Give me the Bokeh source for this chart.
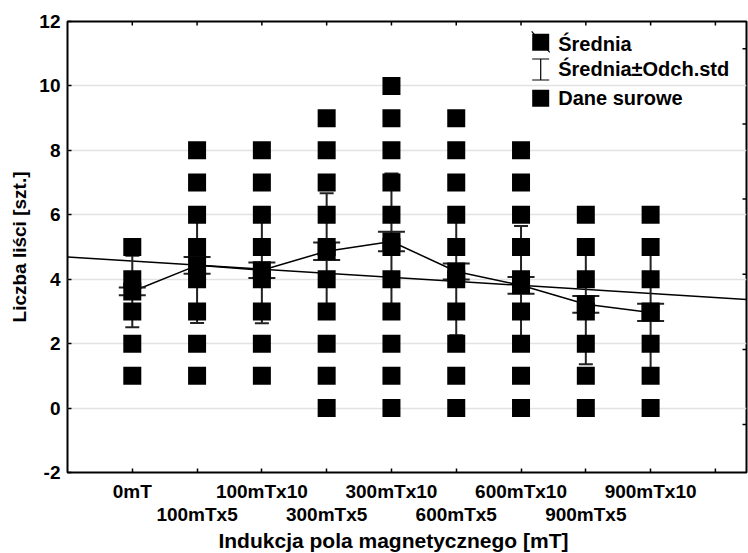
import numpy as np
from bokeh.plotting import figure
from bokeh.models import Range1d, FixedTicker, Title
from bokeh.core.properties import value
from bokeh.embed import file_html
from bokeh.resources import INLINE

# ---------------- data ----------------
categories = ["0mT", "100mTx5", "100mTx10", "300mTx5", "300mTx10",
              "600mTx5", "600mTx10", "900mTx5", "900mTx10"]
raw_values = [
    [1, 2, 3, 4, 5],
    [1, 2, 3, 4, 5, 6, 7, 8],
    [1, 2, 3, 4, 5, 6, 7, 8],
    [0, 1, 2, 3, 4, 5, 6, 7, 8, 9],
    [0, 1, 2, 3, 4, 5, 6, 7, 8, 9, 10],
    [0, 1, 2, 3, 4, 5, 6, 7, 8, 9],
    [0, 1, 2, 3, 4, 5, 6, 7, 8],
    [0, 1, 2, 3, 4, 5, 6],
    [0, 1, 2, 3, 4, 5, 6],
]
means = [3.62, 4.43, 4.28, 4.87, 5.17, 4.24, 3.81, 3.22, 2.97]
std_devs = [1.11, 1.79, 1.65, 1.80, 2.11, 1.98, 1.84, 1.86, 1.80]
std_errs = [0.12, 0.26, 0.24, 0.27, 0.30, 0.25, 0.26, 0.26, 0.27]
reg_intercept = 4.69
reg_slope = -0.126
y_ticks = [-2, 0, 2, 4, 6, 8, 10, 12]
y_tick_labels = ["-2", "0", "2", "4", "6", "8", "10", "12"]
legend_labels = ["Średnia", "Średnia±Odch.std", "Dane surowe"]
x_title = "Indukcja pola magnetycznego [mT]"
y_title = "Liczba liści [szt.]"

FONT = "Liberation Sans"

# ---------------- figure ----------------
FW, FH = 679, 451
p = figure(frame_width=FW, frame_height=FH,
           x_range=Range1d(0, 10.48), y_range=Range1d(-2, 12),
           output_backend="svg", toolbar_location=None,
           min_border_left=67, min_border_top=21, min_border_right=2,
           min_border_bottom=81)
p.extra_x_ranges = {"px": Range1d(0, FW)}
p.extra_y_ranges = {"px": Range1d(FH, 0), "r": Range1d(-0.638, 5.362)}

p.outline_line_color = "black"
p.outline_line_width = 2
p.background_fill_color = "white"
p.border_fill_color = "white"

xpos = list(range(1, len(categories) + 1))
extra_tick = len(categories) + 1

# axes
xa = p.xaxis[0]
xa.ticker = FixedTicker(ticks=xpos)
overrides = {}
for i, c in enumerate(categories):
    overrides[xpos[i]] = c if i % 2 == 0 else "\n" + c
xa.major_label_overrides = overrides

ya = p.yaxis[0]
ya.ticker = FixedTicker(ticks=y_ticks)
ya.major_label_overrides = dict(zip(y_ticks, y_tick_labels))
ya.axis_label = y_title

for ax in (xa, ya):
    ax.axis_line_color = None
    ax.major_tick_in = 4
    ax.major_tick_out = 0
    ax.major_tick_line_width = 1.5
    ax.major_tick_line_color = "black"
    ax.minor_tick_line_color = None
    ax.major_label_text_font = FONT
    ax.major_label_text_font_style = "bold"
    ax.major_label_text_font_size = "19px"
    ax.major_label_text_color = "black"
    ax.axis_label_text_font = FONT
    ax.axis_label_text_font_style = "bold"
    ax.axis_label_text_font_size = "19px"
    ax.axis_label_text_color = "black"
xa.major_label_text_line_height = 1.1
xa.major_label_standoff = 8
ya.major_label_standoff = 7
ya.axis_label_standoff = 6

# x-axis title (placed like the reference, a bit left of the frame centre)
p.add_layout(Title(text=x_title, align="right", offset=178, standoff=2,
                   vertical_align="top",
                   text_font=FONT, text_font_style="bold", text_font_size="21px",
                   text_color="black"), "below")

p.xgrid.grid_line_color = None
p.ygrid.ticker = FixedTicker(ticks=y_ticks)
p.ygrid.grid_line_color = "#e2e2e2"
p.ygrid.grid_line_width = 1.5

# inward ticks on the top / right frame edges and extra bottom tick
top_ticks = xpos + [extra_tick]
p.segment(x0=top_ticks, y0=[0] * len(top_ticks), x1=top_ticks, y1=[4] * len(top_ticks),
          y_range_name="px", line_color="black", line_width=1.5)
p.segment(x0=[extra_tick], y0=[FH], x1=[extra_tick], y1=[FH - 4],
          y_range_name="px", line_color="black", line_width=1.5)
r_ticks = [0, 1, 2, 3, 4, 5]
p.segment(x0=[FW] * 6, y0=r_ticks, x1=[FW - 4] * 6, y1=r_ticks,
          x_range_name="px", y_range_name="r", line_color="black", line_width=1.5)

# regression line
x0, x1 = p.x_range.start, p.x_range.end
p.line([x0, x1], [reg_intercept + reg_slope * x0, reg_intercept + reg_slope * x1],
       line_color="black", line_width=1.5)

# mean line
p.line(xpos, means, line_color="black", line_width=1.5)

# error bars (SD) with narrow caps, SE caps wider
lo_sd = [m - s for m, s in zip(means, std_devs)]
hi_sd = [m + s for m, s in zip(means, std_devs)]
lo_se = [m - s for m, s in zip(means, std_errs)]
hi_se = [m + s for m, s in zip(means, std_errs)]
p.segment(x0=xpos, y0=lo_sd, x1=xpos, y1=hi_sd, line_color="#222222", line_width=2)
p.scatter(xpos + xpos, lo_sd + hi_sd, marker="dash", size=14, line_color="#222222", line_width=2)
p.scatter(xpos + xpos, lo_se + hi_se, marker="dash", size=27, line_color="#222222", line_width=2)

# raw data
rx, ry = [], []
for i, vals in enumerate(raw_values):
    for v in vals:
        rx.append(xpos[i])
        ry.append(v)
p.scatter(rx, ry, marker="square", size=18, fill_color="black", line_color="black", line_width=0)

# means markers
p.scatter(xpos, means, marker="square", size=18, fill_color="black", line_color="black", line_width=0)

# ---------------- legend (manual, frame pixel coords) ----------------
ix, tx = 473.2, 490.7
rows_c = [20.8, 48.0, 76.8]
rows_b = [22.8, 47.8, 76.3]
p.scatter([ix], [rows_c[0]], marker="square", size=17, fill_color="black", line_width=0,
          x_range_name="px", y_range_name="px")
p.segment(x0=[ix - 9], y0=[rows_c[0] - 11], x1=[ix + 9], y1=[rows_c[0] + 10],
          line_color="black", line_width=1.2, x_range_name="px", y_range_name="px")
p.segment(x0=[ix, ix - 8.5, ix - 8.5], y0=[rows_c[1] - 10.5, rows_c[1] - 10.5, rows_c[1] + 10.5],
          x1=[ix, ix + 8.5, ix + 8.5], y1=[rows_c[1] + 10.5, rows_c[1] - 10.5, rows_c[1] + 10.5],
          line_color="black", line_width=1.2, x_range_name="px", y_range_name="px")
p.scatter([ix], [rows_c[2]], marker="square", size=17, fill_color="black", line_width=0,
          x_range_name="px", y_range_name="px")
p.text(x=[tx] * 3, y=rows_b, text=legend_labels, text_font=value(FONT),
       text_font_style="bold", text_font_size="20px", text_color="black",
       text_baseline="alphabetic", text_align="left",
       x_range_name="px", y_range_name="px")

open("out.html", "w").write(file_html(p, INLINE))
